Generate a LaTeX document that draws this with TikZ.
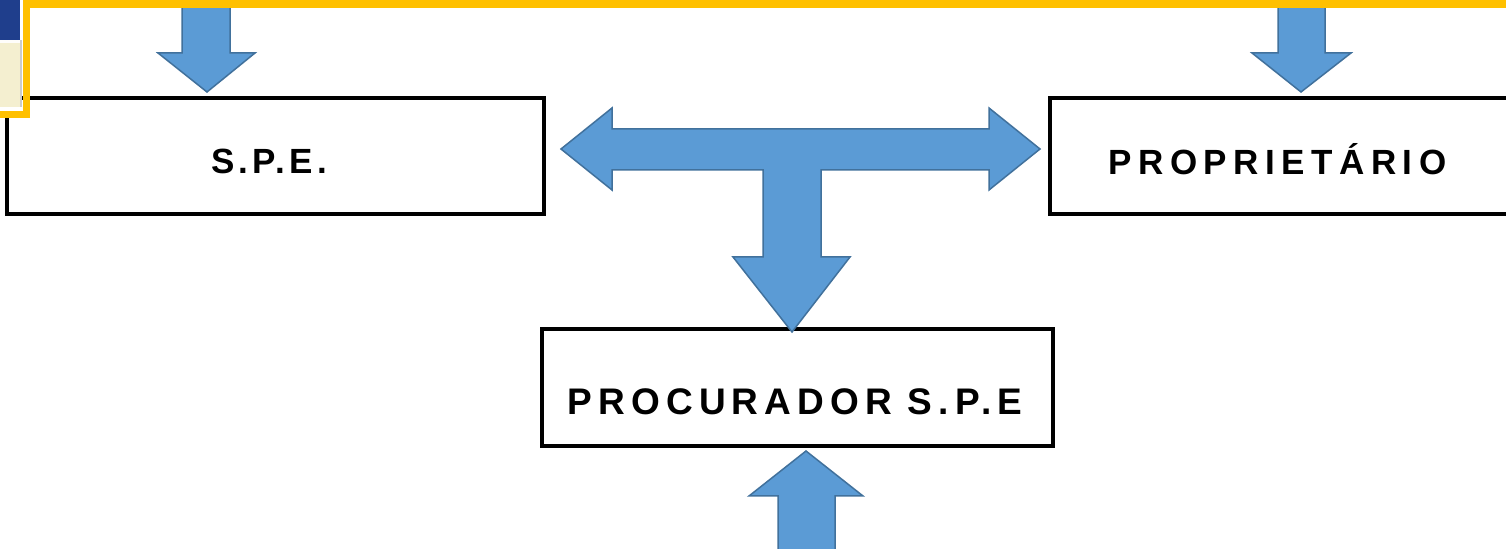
\documentclass[tikz,border=0pt]{standalone}
\usepackage{fontspec}
\setmainfont{Liberation Sans}
\newfontfamily\speFont[LetterSpace=12]{Liberation Sans}
\newfontfamily\propFont[LetterSpace=18.5]{Liberation Sans}
\newfontfamily\procFont[LetterSpace=16.5]{Liberation Sans}
\definecolor{arrowfill}{HTML}{5B9BD5}
\definecolor{arrowline}{HTML}{41719C}
\definecolor{gold}{HTML}{FFC000}
\definecolor{navy}{HTML}{1F3E8C}
\definecolor{cream}{HTML}{F4EFD0}
\tikzset{
  box/.style={draw=black, line width=2pt, fill=white, inner sep=0pt},
  blockarrow/.style={fill=arrowfill, draw=arrowline, line width=0.75pt, line join=miter},
  lbl/.style={inner sep=0pt, anchor=base, font=\bfseries\fontsize{17.5pt}{20pt}\selectfont}
}
\begin{document}
\begin{tikzpicture}[x=0.5pt,y=-0.5pt]
\clip (0,0) rectangle (1506,549);
\fill[white] (0,0) rectangle (1506,549);
% boxes
\node[box, minimum width=268.5pt, minimum height=58pt] (spe) at (275.5,156) {};
\node[box, minimum width=270pt, minimum height=58pt] (prop) at (1320,156) {};
\node[box, minimum width=255.5pt, minimum height=58.5pt] (proc) at (797.5,387.5) {};
% labels
\node[lbl] (speT) at (269,174) {\speFont\bfseries S.P.E.};
\node[lbl] (propT) at (1277.5,175) {\propFont\bfseries PROPRIETÁRIO};
\node[lbl, font=\bfseries\fontsize{18.5pt}{20pt}\selectfont] (procT) at (795,415) {\procFont\bfseries PROCURADOR\hspace{8pt}S.P.E};
% block arrows
\draw[blockarrow] (182,-5) -- (230,-5) -- (230,53) -- (255,53) -- (207,92) -- (158,53) -- (182,53) -- cycle;
\draw[blockarrow] (1278,-5) -- (1325,-5) -- (1325,53) -- (1351,53) -- (1301,92) -- (1252,53) -- (1278,53) -- cycle;
\draw[blockarrow] (561,149) -- (612,108) -- (612,129) -- (989,129) -- (989,108) -- (1040,149)
  -- (989,190) -- (989,170) -- (821,170) -- (821,257) -- (850,257) -- (792,332) -- (733,257)
  -- (763,257) -- (763,170) -- (612,170) -- (612,190) -- cycle;
\draw[blockarrow] (806,451) -- (863,496) -- (835,496) -- (835,560) -- (778,560) -- (778,496) -- (749,496) -- cycle;
% top-left window fragment and gold frame
\fill[navy] (0,0) rectangle (20,40);
\fill[white!90!cream] (0,40) rectangle (20,43);
\fill[cream] (0,43) rectangle (20,107);
\fill[gray!40] (20,40) rectangle (22,109);
\fill[white] (0,107) rectangle (23,111);
\fill[gold] (23,0) rectangle (30,118);
\fill[gold] (0,111) rectangle (30,118);
\fill[gold] (23,0) rectangle (1506,8);
\end{tikzpicture}
\end{document}
